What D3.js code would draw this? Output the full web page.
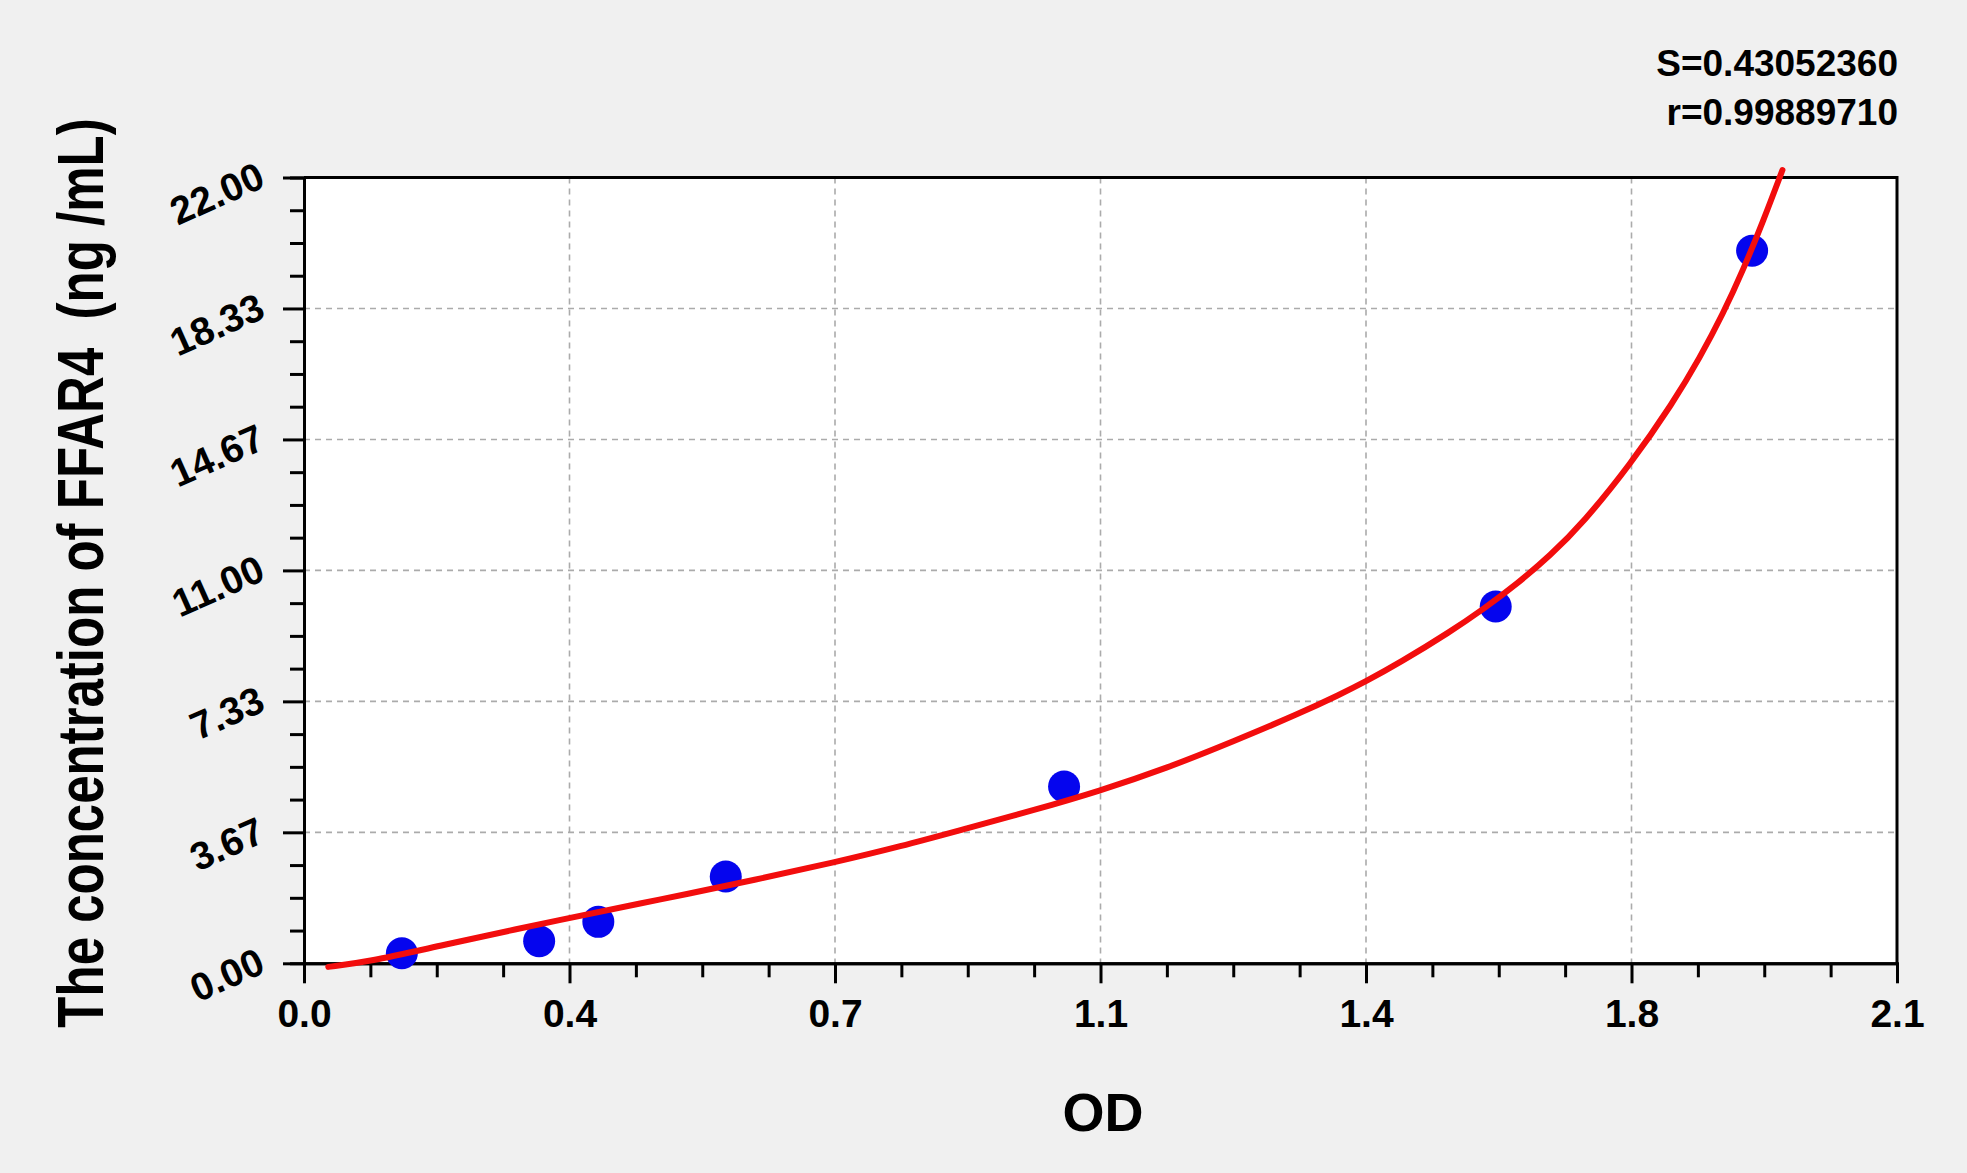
<!DOCTYPE html>
<html>

<head>
	<meta charset="utf-8">
	<title>FFAR4 standard curve</title>
	<script src="https://d3js.org/d3.v7.min.js"></script>
	<style>
		body { margin: 0; background: #f0f0f0; }
		text { font-family: "Liberation Sans", Arial, sans-serif; font-weight: bold; fill: #000; }
	</style>
</head>

<body>
	<script>
		// standard points (OD, concentration)
		var pointOD = [0.129, 0.310, 0.388, 0.556, 1.002, 1.571, 1.909];
		var pointConc = [0.28, 0.62, 1.16, 2.43, 4.95, 9.99, 19.95];

		// fitted curve
		var curveOD = [0.032, 0.087, 0.170, 0.346, 0.466, 0.600, 0.698, 0.786, 0.874, 0.961, 1.048, 1.137, 1.225, 1.313,
			1.366, 1.398, 1.445, 1.511, 1.555, 1.599, 1.643, 1.686, 1.748, 1.805, 1.840, 1.871, 1.897, 1.924, 1.949];
		var curveConc = [-0.10, 0.05, 0.45, 1.26, 1.77, 2.36, 2.82, 3.27, 3.78, 4.28, 4.82, 5.46, 6.21, 7.00,
			7.53, 7.87, 8.42, 9.28, 9.92, 10.62, 11.42, 12.33, 13.95, 15.70, 16.95, 18.20, 19.40, 20.80, 22.21];

		// axis ticks
		var xTicks = [0, 0.35, 0.7, 1.05, 1.4, 1.75, 2.1];
		var xTickLabels = ["0.0", "0.4", "0.7", "1.1", "1.4", "1.8", "2.1"];
		var yTicks = [0, 22 / 6, 44 / 6, 11, 88 / 6, 110 / 6, 22];
		var yTickLabels = ["0.00", "3.67", "7.33", "11.00", "14.67", "18.33", "22.00"];

		var statLines = ["S=0.43052360", "r=0.99889710"];

		var width = 1967;
		var height = 1173;
		// plot box (window.top is read-only, so no bare "top")
		var plotLeft = 304, plotRight = 1897, plotTop = 177.5, plotBottom = 963.3;

		var svg = d3.select("body")
			.append("svg")
			.attr("width", width)
			.attr("height", height);

		var x = d3.scaleLinear().domain([0, 2.1]).range([plotLeft, plotRight]);
		var y = d3.scaleLinear().domain([0, 22]).range([plotBottom, plotTop]);

		//plot area
		svg.append("rect")
			.attr("x", plotLeft).attr("y", plotTop)
			.attr("width", plotRight - plotLeft).attr("height", plotBottom - plotTop)
			.attr("fill", "#fff");

		//grid
		var grid = svg.append("g")
			.attr("stroke", "#ababab")
			.attr("stroke-width", 1.6)
			.attr("stroke-dasharray", "6,5");
		grid.selectAll(".gx")
			.data(xTicks.slice(1, -1))
			.enter().append("line")
			.attr("x1", d => x(d)).attr("x2", d => x(d))
			.attr("y1", plotTop).attr("y2", plotBottom);
		grid.selectAll(".gy")
			.data(yTicks.slice(1, -1))
			.enter().append("line")
			.attr("y1", d => y(d)).attr("y2", d => y(d))
			.attr("x1", plotLeft).attr("x2", plotRight);

		//top and right border
		svg.append("path")
			.attr("d", "M" + plotLeft + "," + plotTop + "H" + plotRight + "V" + plotBottom)
			.attr("fill", "none")
			.attr("stroke", "#000")
			.attr("stroke-width", 3);

		//minor ticks, 4 steps per major
		var xMinor = d3.range(0, 24).map(i => i * 0.0875).filter((d, i) => i % 4 != 0);
		var yMinor = d3.range(0, 24).map(i => i * 22 / 24).filter((d, i) => i % 4 != 0);

		svg.append("g")
			.attr("transform", "translate(0," + plotBottom + ")")
			.call(d3.axisBottom(x).tickValues(xMinor).tickSize(14).tickFormat(""));
		svg.append("g")
			.attr("transform", "translate(" + plotLeft + ",0)")
			.call(d3.axisLeft(y).tickValues(yMinor).tickSize(14).tickFormat(""));

		var xAxis = svg.append("g")
			.attr("transform", "translate(0," + plotBottom + ")")
			.call(d3.axisBottom(x).tickValues(xTicks).tickSize(20).tickSizeOuter(0)
				.tickFormat((d, i) => xTickLabels[i]));
		var yAxis = svg.append("g")
			.attr("transform", "translate(" + plotLeft + ",0)")
			.call(d3.axisLeft(y).tickValues(yTicks).tickSize(21).tickSizeOuter(0)
				.tickFormat((d, i) => yTickLabels[i]));

		svg.selectAll(".domain, .tick line")
			.attr("stroke", "#000")
			.attr("stroke-width", 3);

		xAxis.selectAll("text")
			.attr("y", 64)
			.attr("dy", null)
			.style("font-size", "39px")
			.attr("fill", "#000");

		//rotated y labels
		yAxis.selectAll("text")
			.attr("x", null)
			.attr("dy", null)
			.attr("transform", "translate(-37,8) rotate(-24)")
			.style("font-size", "39px")
			.attr("fill", "#000");

		//points
		svg.append("g")
			.selectAll("circle")
			.data(pointOD)
			.enter().append("circle")
			.attr("cx", d => x(d))
			.attr("cy", (d, i) => y(pointConc[i]))
			.attr("r", 16)
			.attr("fill", "#0505ee");

		//fit line
		var line = d3.line()
			.x(d => x(d))
			.y((d, i) => y(curveConc[i]))
			.curve(d3.curveBasis);

		svg.append("path")
			.attr("d", line(curveOD))
			.attr("fill", "none")
			.attr("stroke", "#f20d0d")
			.attr("stroke-width", 6)
			.attr("stroke-linecap", "round");

		//axis titles
		svg.append("text")
			.attr("x", 1103)
			.attr("y", 1131)
			.attr("text-anchor", "middle")
			.style("font-size", "54px")
			.text("OD");

		// tall narrow lettering: normal length, stretched across the baseline
		svg.append("text")
			.attr("transform", "translate(103,573) rotate(-90) scale(1,1.28)")
			.attr("text-anchor", "middle")
			.style("font-size", "51px")
			.style("white-space", "pre")
			.text("The concentration of FFAR4  (ng /mL)");

		//fit statistics
		svg.selectAll(".stat")
			.data(statLines)
			.enter().append("text")
			.attr("x", 1898)
			.attr("y", (d, i) => 76 + i * 49)
			.attr("text-anchor", "end")
			.style("font-size", "37px")
			.text(d => d);
	</script>
</body>

</html>
